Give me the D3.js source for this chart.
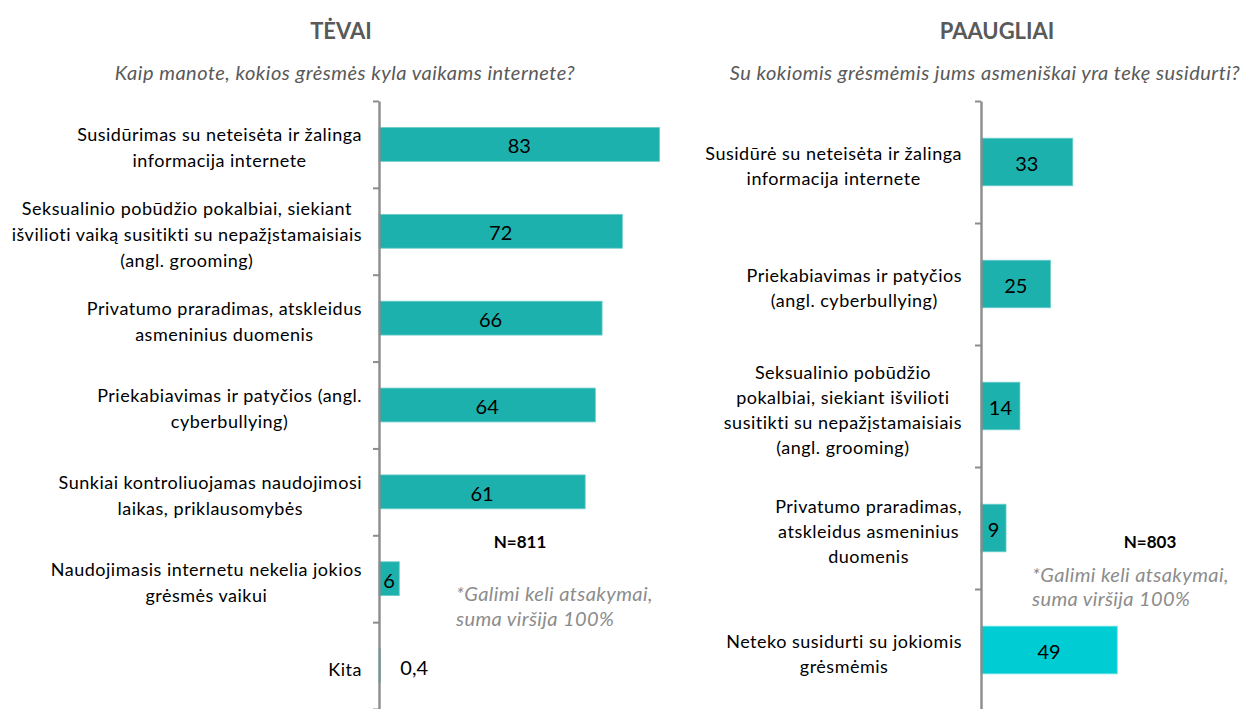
<!DOCTYPE html>
<html>
<head>
<meta charset="utf-8">
<script src="https://cdn.jsdelivr.net/npm/d3@7"></script>
<style>
  html, body { margin: 0; padding: 0; background: #ffffff; }
  svg { display: block; }
  text { font-family: Lato, "Open Sans", sans-serif; }
</style>
</head>
<body>
<svg id="chart" width="1244" height="709"></svg>
<script>
// Parents (TĖVAI)
const parentCategories = [
  ["Susidūrimas su neteisėta ir žalinga", "informacija internete"],
  ["Seksualinio pobūdžio pokalbiai, siekiant", "išvilioti vaiką susitikti su nepažįstamaisiais", "(angl. grooming)"],
  ["Privatumo praradimas, atskleidus", "asmeninius duomenis"],
  ["Priekabiavimas ir patyčios (angl.", "cyberbullying)"],
  ["Sunkiai kontroliuojamas naudojimosi", "laikas, priklausomybės"],
  ["Naudojimasis internetu nekelia jokios", "grėsmės vaikui"],
  ["Kita"]
];
const parentValues = [83, 72, 66, 64, 61, 6, 0.4];
const parentValueLabels = ["83", "72", "66", "64", "61", "6", "0,4"];

// Teenagers (PAAUGLIAI)
const teenCategories = [
  ["Susidūrė su neteisėta ir žalinga", "informacija internete"],
  ["Priekabiavimas ir patyčios", "(angl. cyberbullying)"],
  ["Seksualinio pobūdžio", "pokalbiai, siekiant išvilioti", "susitikti su nepažįstamaisiais", "(angl. grooming)"],
  ["Privatumo praradimas,", "atskleidus asmeninius", "duomenis"],
  ["Neteko susidurti su jokiomis", "grėsmėmis"]
];
const teenValues = [33, 25, 14, 9, 49];
const teenValueLabels = ["33", "25", "14", "9", "49"];
const teenHighlight = [false, false, false, false, true];

const panelTitles = ["TĖVAI", "PAAUGLIAI"];
const panelQuestions = [
  "Kaip manote, kokios grėsmės kyla vaikams internete?",
  "Su kokiomis grėsmėmis jums asmeniškai yra tekę susidurti?"
];
const sampleSizes = ["N=811", "N=803"];
const footnoteLines = ["*Galimi keli atsakymai,", "suma viršija 100%"];

const svg = d3.select("#chart");
const TEAL = "#1db1ad", CYAN = "#00cdd3", AXIS = "#8c8c8c";

function drawPanel(cfg) {
  const g = svg.append("g");
  const n = cfg.categories.length;

  const x = d3.scaleLinear().domain([0, 100]).range([cfg.axisX, cfg.axisX + cfg.pxPer100]);
  const y = d3.scaleBand().domain(d3.range(n)).range([cfg.top, cfg.bottom])
    .paddingInner(0.61).paddingOuter(0.305);
  const yb = d3.scaleLinear().domain([0, n]).range([cfg.top, cfg.bottom]);

  // title + question
  g.append("text").attr("x", cfg.titleX).attr("y", 30)
    .attr("text-anchor", "middle").attr("dominant-baseline", "central")
    .attr("font-size", 22).attr("font-weight", 700).attr("fill", "#595959")
    .text(cfg.title);
  g.append("text").attr("x", cfg.questionX).attr("y", 72)
    .attr("text-anchor", "middle").attr("dominant-baseline", "central")
    .attr("font-size", 20).attr("font-style", "italic").attr("fill", "#595959")
    .attr("letter-spacing", 0.5)
    .text(cfg.question);

  // bars
  g.selectAll("rect.bar").data(cfg.values).join("rect")
    .attr("class", "bar")
    .attr("x", x(0))
    .attr("y", (d, i) => y(i))
    .attr("width", d => x(d) - x(0))
    .attr("height", y.bandwidth())
    .attr("fill", (d, i) => cfg.highlight && cfg.highlight[i] ? CYAN : TEAL)
    .attr("stroke", (d, i) => cfg.highlight && cfg.highlight[i] ? "#5fe0e4" : "#6ccdc9")
    .attr("stroke-width", 0.8);

  // axis with ticks at band boundaries
  const axis = d3.axisLeft(yb).tickValues(d3.range(n + 1)).tickFormat("")
    .tickSize(6).tickSizeOuter(0);
  const ag = g.append("g").attr("transform", `translate(${cfg.axisX},0)`).call(axis);
  ag.select(".domain").attr("stroke", AXIS).attr("stroke-width", 2.4);
  ag.selectAll(".tick line").attr("stroke", AXIS).attr("stroke-width", 2);

  // value labels
  g.selectAll("text.val").data(cfg.values).join("text")
    .attr("class", "val")
    .attr("font-size", 20).attr("fill", "#000")
    .attr("dominant-baseline", "central")
    .attr("y", (d, i) => y(i) + y.bandwidth() / 2 + 1)
    .text((d, i) => cfg.valueLabels[i])
    .each(function (d) {
      const w = this.getComputedTextLength();
      const bw = x(d) - x(0);
      const t = d3.select(this);
      if (bw >= w + 4) t.attr("x", (x(0) + x(d)) / 2).attr("text-anchor", "middle");
      else t.attr("x", x(d) + 20).attr("text-anchor", "start");
    });

  // category labels: block right-aligned, lines centred within the block
  cfg.categories.forEach((lines, i) => {
    const cy = y(i) + y.bandwidth() / 2 + 3;
    const lg = g.append("g");
    const texts = lines.map((ln, k) => lg.append("text")
      .attr("font-size", 18).attr("fill", "#000")
      .attr("letter-spacing", 0.5)
      .attr("dominant-baseline", "central")
      .attr("text-anchor", "middle")
      .attr("y", cy + (k - (lines.length - 1) / 2) * cfg.lineH)
      .text(ln));
    const maxW = d3.max(texts, t => t.node().getComputedTextLength());
    texts.forEach(t => t.attr("x", cfg.labelRight - maxW / 2));
  });

  // sample size + footnote
  g.append("text").attr("x", cfg.nX).attr("y", 541)
    .attr("text-anchor", "middle").attr("dominant-baseline", "central")
    .attr("font-size", 17).attr("font-weight", 700).attr("fill", "#000")
    .text(cfg.sample);
  footnoteLines.forEach((ln, k) => {
    g.append("text").attr("x", cfg.noteX).attr("y", cfg.noteY + k * cfg.noteH)
      .attr("dominant-baseline", "central")
      .attr("font-size", 20).attr("font-style", "italic").attr("fill", "#8c8c8c")
      .attr("letter-spacing", 0.4)
      .text(ln);
  });
}

drawPanel({
  categories: parentCategories, values: parentValues, valueLabels: parentValueLabels,
  axisX: 379, pxPer100: 338, top: 101, bottom: 709, labelRight: 362, lineH: 26,
  title: panelTitles[0], titleX: 341, question: panelQuestions[0], questionX: 345,
  sample: sampleSizes[0], nX: 520, noteX: 456, noteY: 593, noteH: 25
});

drawPanel({
  categories: teenCategories, values: teenValues, valueLabels: teenValueLabels,
  highlight: teenHighlight,
  axisX: 981, pxPer100: 278, top: 101, bottom: 711, labelRight: 962, lineH: 25,
  title: panelTitles[1], titleX: 997, question: panelQuestions[1], questionX: 985,
  sample: sampleSizes[1], nX: 1150, noteX: 1032, noteY: 574, noteH: 24
});
</script>
</body>
</html>
